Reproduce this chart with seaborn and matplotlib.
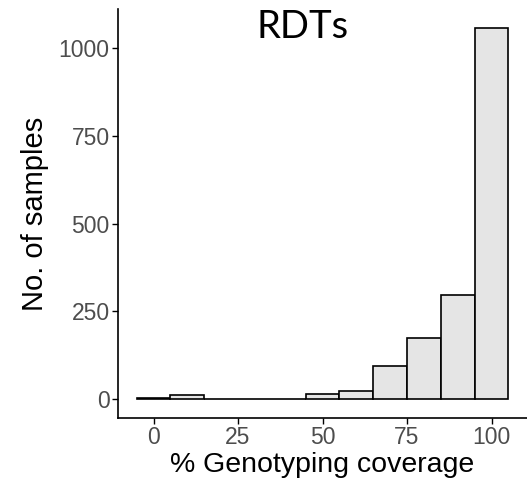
import numpy as np
import pandas as pd
import matplotlib
matplotlib.use("Agg")
import matplotlib.pyplot as plt
import seaborn as sns

# Genotyping coverage bins (centres, %) and number of samples in each
coverage_bins = [0, 10, 20, 30, 40, 50, 60, 70, 80, 90, 100]
sample_counts = [5, 11, 1, 1, 1, 16, 23, 94, 174, 298, 1056]
y_ticks = [0, 250, 500, 750, 1000]
x_ticks = [0, 25, 50, 75, 100]

df = pd.DataFrame({"coverage": coverage_bins, "n": sample_counts})

sns.set_theme(style="ticks")
plt.rcParams["font.family"] = ["Liberation Sans", "DejaVu Sans"]

fig = plt.figure(figsize=(5.27, 4.82), dpi=100)
ax = fig.add_axes([0.224, 0.133, 0.776, 0.848])

sns.histplot(data=df, x="coverage", weights="n", binwidth=10,
             binrange=(-5, 105), color="#E5E5E5", edgecolor="black",
             linewidth=1.2, alpha=1.0, ax=ax)

ax.set_xlim(-10.5, 110.5)
ax.set_ylim(-53, 1111)
ax.set_xticks(x_ticks)
ax.set_yticks(y_ticks)
ax.tick_params(axis="both", labelsize=16.5, labelcolor="#4D4D4D",
               color="black", width=1, length=4, pad=2)
ax.set_xlabel("% Genotyping coverage", fontsize=20.5, color="black", labelpad=2)
ax.set_ylabel("No. of samples", fontsize=21, color="black", labelpad=7)

for side in ["top", "right"]:
    ax.spines[side].set_visible(False)
for side in ["left", "bottom"]:
    ax.spines[side].set_linewidth(1.2)
    ax.spines[side].set_color("black")

ax.text(44, 1060, "RDTs", fontsize=27.5, family=["Lato", "DejaVu Sans"],
        ha="center", va="center", color="black")

fig.savefig("out.png", dpi=100)
